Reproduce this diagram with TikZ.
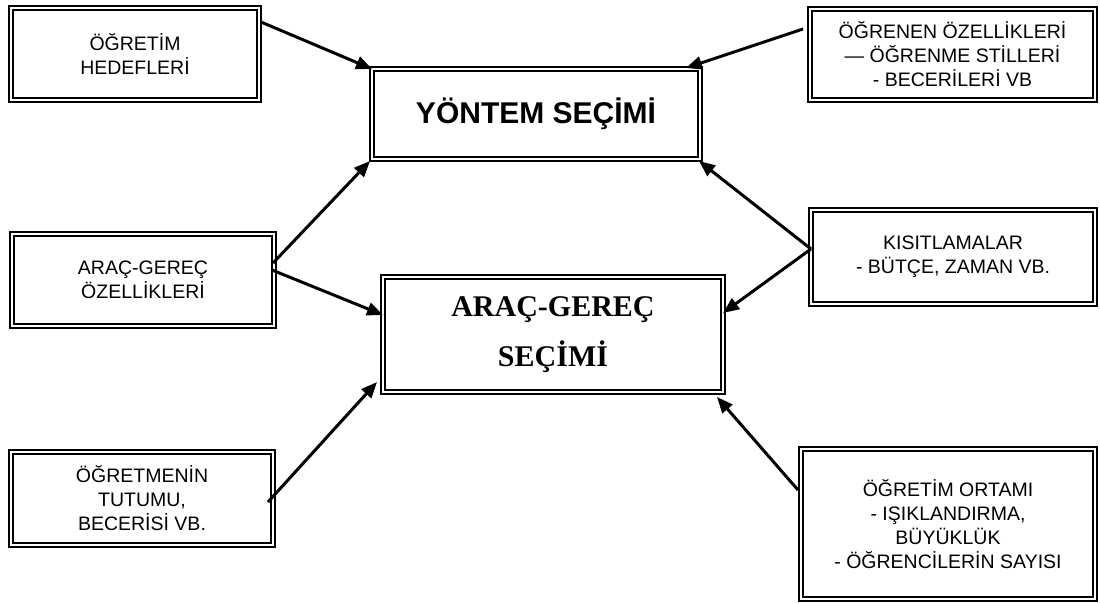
\documentclass[tikz,border=0pt]{standalone}
\usepackage{fontspec}
\usetikzlibrary{arrows.meta,calc}
\newfontfamily\boxfont{Liberation Sans}
\newfontfamily\titlefont{Liberation Sans}
\newfontfamily\serifbold{Liberation Serif}
\begin{document}
\begin{tikzpicture}[x=1pt,y=-1pt,
  box/.style={draw, line width=2.2pt, inner sep=0pt, outer sep=0pt, align=center,
    font=\fontsize{19.5}{24}\selectfont\boxfont},
  arr/.style={line width=3pt, -{Triangle[length=16pt,width=13pt]}}]
\useasboundingbox (0,0) rectangle (1100,604);
\fill[white] (0,0) rectangle (1100,604);
\node[box, minimum width=252pt, minimum height=96pt] (b1) at (135,54) {ÖĞRETİM\\HEDEFLERİ};
\node[box, minimum width=289pt, minimum height=95pt] (b2) at (952.5,54.5) {ÖĞRENEN ÖZELLİKLERİ\\— ÖĞRENME STİLLERİ\\- BECERİLERİ VB};
\node[box, minimum width=332pt, minimum height=94pt, font=\fontsize{30}{36}\selectfont\titlefont\bfseries] (y1) at (536,114) {YÖNTEM SEÇİMİ};
\node[box, minimum width=266pt, minimum height=96pt] (b3) at (143,280) {ARAÇ-GEREÇ\\ÖZELLİKLERİ};
\node[box, minimum width=344pt, minimum height=119pt, font=\fontsize{30}{50}\selectfont\serifbold\bfseries] (a1) at (553,334.5) {ARAÇ-GEREÇ\\SEÇİMİ};
\node[box, minimum width=288pt, minimum height=98pt] (k1) at (953,257) {KISITLAMALAR\\- BÜTÇE, ZAMAN VB.};
\node[box, minimum width=266pt, minimum height=97pt] (b4) at (142,498.5) {ÖĞRETMENİN\\TUTUMU,\\BECERİSİ VB.};
\node[box, minimum width=298pt, minimum height=154pt] (b6) at (948,524) {ÖĞRETİM ORTAMI\\- IŞIKLANDIRMA,\\BÜYÜKLÜK\\- ÖĞRENCİLERİN SAYISI};
\foreach \n in {b1,b2,y1,b3,a1,k1,b4,b6}
  \draw[line width=1.5pt] ($(\n.north west)+(3.8,3.8)$) rectangle ($(\n.south east)+(-3.8,-3.8)$);
\draw[arr] ($(b1.north east)+(0,16)$) -- ($(y1.north west)+(2,2)$);
\draw[arr] ($(b2.north west)+(-5,22)$) -- ($(y1.north east)+(-16,1)$);
\draw[arr] ($(b3.north east)+(-3,31)$) -- (y1.south west);
\draw[arr] ($(b3.north east)+(-4,38)$) -- ($(a1.north west)+(2,40)$);
\draw[arr] ($(k1.north west)+(2,41)$) -- ($(y1.south east)+(-3,0)$);
\draw[arr] ($(k1.north west)+(2,41)$) -- ($(a1.north east)+(-2,38)$);
\draw[arr] ($(b4.north east)+(-7,52)$) -- ($(a1.south west)+(-4,-12)$);
\draw[arr] ($(b6.north west)+(-1,43)$) -- ($(a1.south east)+(-8,3)$);
\end{tikzpicture}
\end{document}
